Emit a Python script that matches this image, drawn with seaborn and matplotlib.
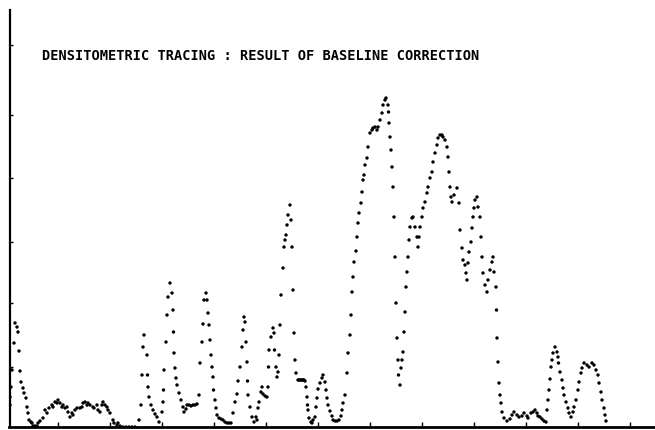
import numpy as np
import pandas as pd
import matplotlib
matplotlib.use("Agg")
import matplotlib.pyplot as plt
import seaborn as sns

TITLE = "DENSITOMETRIC TRACING : RESULT OF BASELINE CORRECTION"

seg_a_pos = [10, 10, 11, 12, 14, 15, 17, 18, 19, 20, 21, 23, 24, 26, 27, 28, 29, 31, 32, 33,
             35, 37, 38, 40, 43, 45, 47, 49, 52, 53, 55, 57, 58, 60, 62, 63, 65, 67, 68, 70,
             72, 73, 75, 77, 80, 82, 83, 85, 87, 88, 90, 93, 94, 97, 98, 100, 102, 103, 105, 107,
             108, 110, 113, 114, 117, 118, 120, 123, 126, 129, 132, 135]
seg_a_val = [22, 30, 40, 57, 84, 104, 100, 95, 76, 56, 45, 39, 34, 29, 20, 14, 7, 5, 4, 1,
             1, 1, 4, 6, 9, 17, 14, 19, 22, 20, 25, 24, 27, 24, 20, 22, 19, 20, 15, 10,
             14, 12, 17, 19, 19, 20, 24, 25, 22, 24, 22, 20, 19, 22, 17, 15, 22, 25, 22, 20,
             17, 14, 7, 4, 2, 4, 1, 0, 0, 0, 0, 0]

seg_b_pos = [139, 141, 142, 143, 144, 147, 147.5, 148, 149, 151, 153, 155, 157, 159, 162, 163, 163.5, 164, 166, 167,
             168, 170, 172, 173, 173.5, 174, 175, 176, 177, 179, 181, 183, 184, 186, 187, 189, 191, 193, 195, 197,
             199]
seg_b_val = [7, 22, 52, 80, 92, 72, 52, 40, 30, 22, 17, 13, 10, 5, 15, 25, 37, 57, 85, 112,
             130, 144, 134, 117, 95, 74, 59, 49, 42, 34, 27, 20, 15, 18, 22, 22, 21, 22, 22, 23,
             32]

seg_c_pos = [200, 202, 203, 204, 206, 207, 208, 209, 210, 211, 212, 213, 213.5, 215, 216, 217, 219, 221, 223, 225,
             227, 229, 231, 233, 235, 237, 238, 240, 242, 243, 244, 245, 246, 247, 247.5, 248, 250, 252, 254, 256]
seg_c_val = [64, 85, 103, 127, 134, 127, 114, 102, 87, 72, 60, 50, 37, 27, 19, 12, 9, 8, 7, 5,
             4, 4, 4, 14, 25, 33, 46, 60, 80, 97, 110, 105, 85, 65, 46, 32, 20, 10, 5, 10]

seg_d_pos = [257, 258, 259, 261, 262, 263, 265, 267, 268, 268.5, 269, 271, 273, 274, 274.5, 276, 277, 278, 279, 280,
             281, 283, 284, 285, 286, 287, 288, 290, 291, 292, 293, 294, 295, 296, 298, 299, 300, 301, 302, 303,
             304, 305, 306, 307, 307.5, 308, 309, 311, 312, 313, 315, 316, 317, 318, 320, 322, 323, 325, 326, 327,
             328, 330, 332, 333, 335, 337, 339, 341, 342, 343, 345, 347, 348, 350, 351, 352, 353, 354, 356]
seg_d_val = [7, 19, 25, 35, 40, 33, 31, 30, 40, 60, 77, 90, 99, 94, 77, 60, 50, 55, 72, 102,
             132, 159, 180, 187, 192, 202, 212, 222, 207, 180, 137, 94, 67, 54, 47, 47, 47, 47, 47, 47,
             47, 46, 40, 30, 22, 17, 9, 5, 4, 7, 10, 20, 29, 38, 44, 49, 52, 45, 37, 29,
             22, 16, 11, 7, 6, 6, 7, 11, 17, 24, 32, 54, 74, 92, 112, 135, 150, 165, 176]

seg_e_pos = [357, 358, 359, 361, 362, 363, 364, 365, 367, 368, 370, 372, 373, 375, 377, 378, 380, 382, 383, 385,
             386, 388, 388.5, 389, 390, 391, 392, 393, 394, 395, 396, 397, 398, 398.5, 400, 401, 402, 403, 404, 405,
             406, 407, 408, 409, 410, 412, 413, 415, 417, 418, 419, 420, 422, 423, 425, 427, 428, 430, 432, 433,
             435, 437, 438, 440, 442, 443, 445, 447, 448, 449, 450, 451, 452, 454, 457, 459, 460, 462, 463, 465,
             466, 467, 468, 469, 471, 472, 473, 474, 475, 477, 478, 480, 481, 482, 483, 485, 487, 488, 490, 492,
             493, 494, 496, 496.5, 497]
seg_e_val = [190, 204, 214, 224, 235, 247, 252, 262, 269, 280, 294, 297, 299, 300, 297, 300, 307, 314, 322, 327,
             329, 322, 315, 304, 290, 277, 260, 240, 210, 170, 124, 89, 67, 52, 42, 59, 67, 75, 95, 115,
             140, 155, 170, 187, 200, 209, 210, 200, 190, 180, 190, 200, 210, 219, 225, 234, 240, 249, 255, 265,
             274, 282, 289, 292, 292, 290, 287, 280, 270, 255, 240, 230, 225, 232, 239, 224, 197, 179, 167, 162,
             154, 147, 164, 175, 185, 199, 210, 219, 227, 230, 220, 210, 190, 170, 154, 142, 135, 147, 157, 165,
             170, 155, 140, 117, 89]

seg_f_pos = [498, 499, 500, 501, 502, 504, 507, 510, 512, 514, 517, 519, 522, 524, 527, 528, 531, 533, 535, 537,
             538, 540, 542, 544, 546, 547, 548, 549, 550, 551, 552, 553, 555, 557, 558, 558.5, 560, 562, 563, 564,
             566, 568, 569, 571, 573, 574, 576, 578, 579, 581, 582, 584, 587, 589, 592, 594, 596, 598, 599, 601,
             602, 604, 605, 606]
seg_f_val = [65, 44, 32, 24, 15, 9, 6, 8, 12, 15, 12, 10, 11, 14, 11, 9, 14, 15, 17, 14,
             11, 10, 8, 6, 5, 17, 27, 37, 48, 60, 67, 74, 80, 75, 70, 64, 55, 47, 39, 32,
             25, 19, 14, 10, 15, 20, 27, 37, 45, 54, 59, 64, 62, 60, 64, 62, 57, 52, 44, 35,
             27, 19, 12, 6]

x_tick_pos = [58, 110, 162, 214, 266, 318, 370, 422, 474, 526, 578, 630]
y_tick_pos = [60, 124, 185, 249, 312, 382]

pos = seg_a_pos + seg_b_pos + seg_c_pos + seg_d_pos + seg_e_pos + seg_f_pos
val = seg_a_val + seg_b_val + seg_c_val + seg_d_val + seg_e_val + seg_f_val
df = pd.DataFrame({"position": pos, "density": val})

sns.set_style("white")
plt.rcParams["font.family"] = ["DejaVu Sans Mono", "DejaVu Sans"]

W, H = 655, 430
fig = plt.figure(figsize=(W / 100, H / 100), dpi=100)
ax = fig.add_axes([9.5 / W, 3 / H, (W - 9.5) / W, 417 / H])

sns.scatterplot(data=df, x="position", y="density", ax=ax, s=6, color="black",
                linewidth=0, edgecolor="none", legend=False)

ax.set_xlim(9.5, 655)
ax.set_ylim(0, 417)
ax.set_xlabel("")
ax.set_ylabel("")
ax.set_xticks(x_tick_pos)
ax.set_yticks(y_tick_pos)
ax.set_xticklabels([])
ax.set_yticklabels([])
ax.tick_params(axis="x", direction="in", length=3.5, width=1.0, color="black", bottom=True)
ax.tick_params(axis="y", direction="in", length=2.5, width=1.0, color="black", left=True)

for side in ["top", "right"]:
    ax.spines[side].set_visible(False)
for side in ["left", "bottom"]:
    ax.spines[side].set_visible(True)
    ax.spines[side].set_color("black")
ax.spines["left"].set_linewidth(1.6)
ax.spines["bottom"].set_linewidth(2.0)
ax.set_facecolor("white")
fig.patch.set_facecolor("white")

fig.text(42 / W, 1 - 55.5 / H, TITLE, ha="left", va="center",
         fontsize=9.8, fontweight="bold", color="black",
         family=["DejaVu Sans Mono", "DejaVu Sans"])

fig.savefig("out.png", dpi=100, facecolor="white")
